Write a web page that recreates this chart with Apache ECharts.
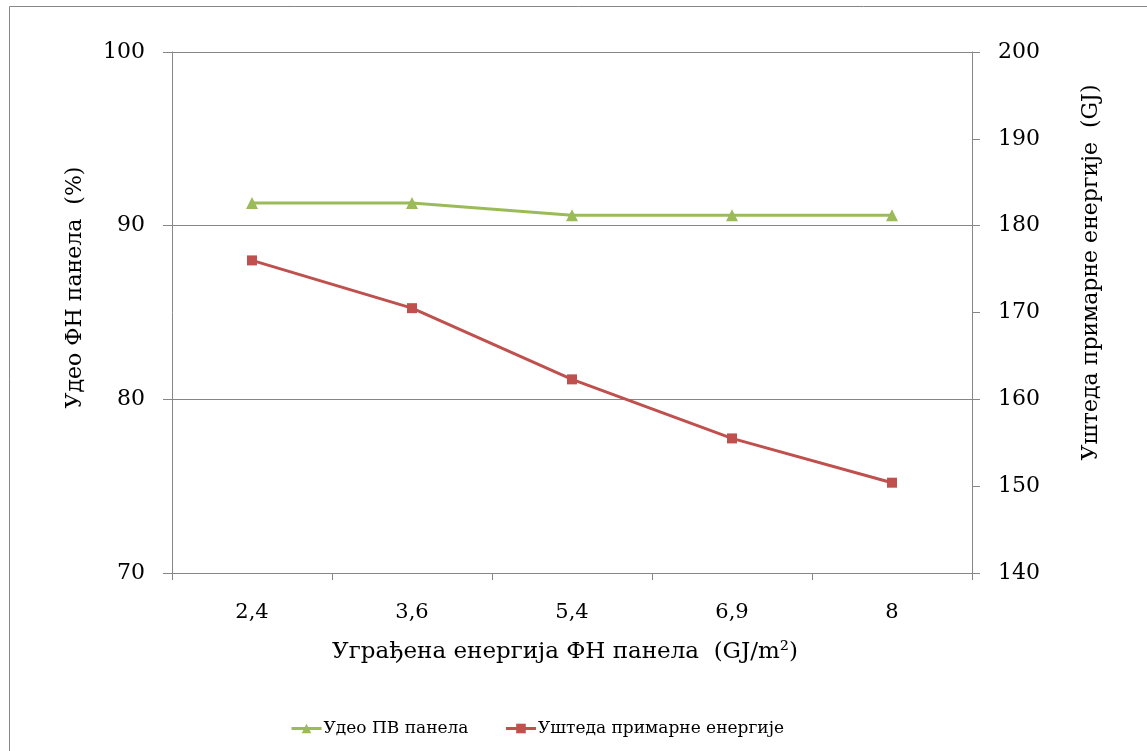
<!DOCTYPE html>
<html>
<head>
<meta charset="utf-8">
<script src="https://cdn.jsdelivr.net/npm/echarts@6/dist/echarts.min.js"></script>
<style>
  html, body { margin: 0; padding: 0; background: #fff; }
  #chart { width: 1147px; height: 751px; }
</style>
</head>
<body>
<div id="chart"></div>
<script>
// Embodied energy of the PV panel (GJ/m2)
const categories = ['2,4', '3,6', '5,4', '6,9', '8'];
// Share of PV panel (%), left axis
const pvShare = [91.3, 91.3, 90.6, 90.6, 90.6];
// Primary energy savings (GJ), right axis
const energySavings = [176.0, 170.5, 162.3, 155.5, 150.4];

const seriesNames = ['Удео ПВ панела', 'Уштеда примарне енергије'];
const xTitle = 'Уграђена енергија ФН панела  (GJ/m²)';
const yLeftTitle = 'Удео ФН панела  (%)';
const yRightTitle = 'Уштеда примарне енергије  (GJ)';

const FONT = "'DejaVu Serif', 'Liberation Serif', serif";
const AXIS_GRAY = '#868686';
const GREEN = '#9BBB59';
const RED = '#C0504D';

const chart = echarts.init(document.getElementById('chart'), null, { renderer: 'canvas' });

chart.setOption({
  backgroundColor: '#ffffff',
  animation: false,
  textStyle: { fontFamily: FONT, color: '#000' },
  graphic: [{
    type: 'rect',
    shape: { x: 9.5, y: 6.5, width: 1300, height: 900 },
    style: { fill: 'none', stroke: AXIS_GRAY, lineWidth: 1 },
    silent: true,
    z: -1
  }],
  grid: { left: 172, right: 175, top: 52, bottom: 178, containLabel: false },
  legend: {
    bottom: 9,
    left: 285,
    itemWidth: 30,
    itemHeight: 12,
    itemGap: 36,
    lineStyle: { width: 3 },
    textStyle: { fontFamily: FONT, fontSize: 17, color: '#000', padding: [0, 0, 0, -3] },
    data: seriesNames
  },
  xAxis: {
    type: 'category',
    data: categories,
    boundaryGap: true,
    name: xTitle,
    nameLocation: 'middle',
    nameGap: 68,
    nameTextStyle: { fontFamily: FONT, fontSize: 23, color: '#000', padding: [0, 14, 0, 0] },
    axisLine: { lineStyle: { color: AXIS_GRAY, width: 1 } },
    axisTick: { show: true, length: 7, lineStyle: { color: AXIS_GRAY } },
    axisLabel: { fontFamily: FONT, fontSize: 21, color: '#000', margin: 29 },
    splitLine: { show: false }
  },
  yAxis: [{
    type: 'value',
    min: 70,
    max: 100,
    interval: 10,
    position: 'left',
    name: yLeftTitle,
    nameLocation: 'middle',
    nameRotate: 90,
    nameGap: 86,
    nameTextStyle: { fontFamily: FONT, fontSize: 22, color: '#000', padding: [0, 0, 0, 50] },
    axisLine: { show: true, lineStyle: { color: AXIS_GRAY, width: 1 } },
    axisTick: { show: true, length: 9, lineStyle: { color: AXIS_GRAY } },
    axisLabel: { fontFamily: FONT, fontSize: 22, color: '#000', margin: 27 },
    splitLine: { show: true, lineStyle: { color: AXIS_GRAY, width: 1 } }
  }, {
    type: 'value',
    min: 140,
    max: 200,
    interval: 10,
    position: 'right',
    name: yRightTitle,
    nameLocation: 'middle',
    nameRotate: 90,
    nameGap: 108,
    nameTextStyle: { fontFamily: FONT, fontSize: 22, color: '#000', padding: [0, 0, 0, 80] },
    axisLine: { show: true, lineStyle: { color: AXIS_GRAY, width: 1 } },
    axisTick: { show: true, length: 8, lineStyle: { color: AXIS_GRAY } },
    axisLabel: { fontFamily: FONT, fontSize: 22, color: '#000', margin: 26 },
    splitLine: { show: false }
  }],
  series: [{
    name: seriesNames[0],
    type: 'line',
    yAxisIndex: 0,
    data: pvShare,
    symbol: 'triangle',
    symbolSize: 12,
    showAllSymbol: true,
    lineStyle: { color: GREEN, width: 3 },
    itemStyle: { color: GREEN },
    z: 3
  }, {
    name: seriesNames[1],
    type: 'line',
    yAxisIndex: 1,
    data: energySavings,
    symbol: 'rect',
    symbolSize: 10,
    showAllSymbol: true,
    lineStyle: { color: RED, width: 3 },
    itemStyle: { color: RED },
    z: 3
  }]
});
</script>
</body>
</html>
